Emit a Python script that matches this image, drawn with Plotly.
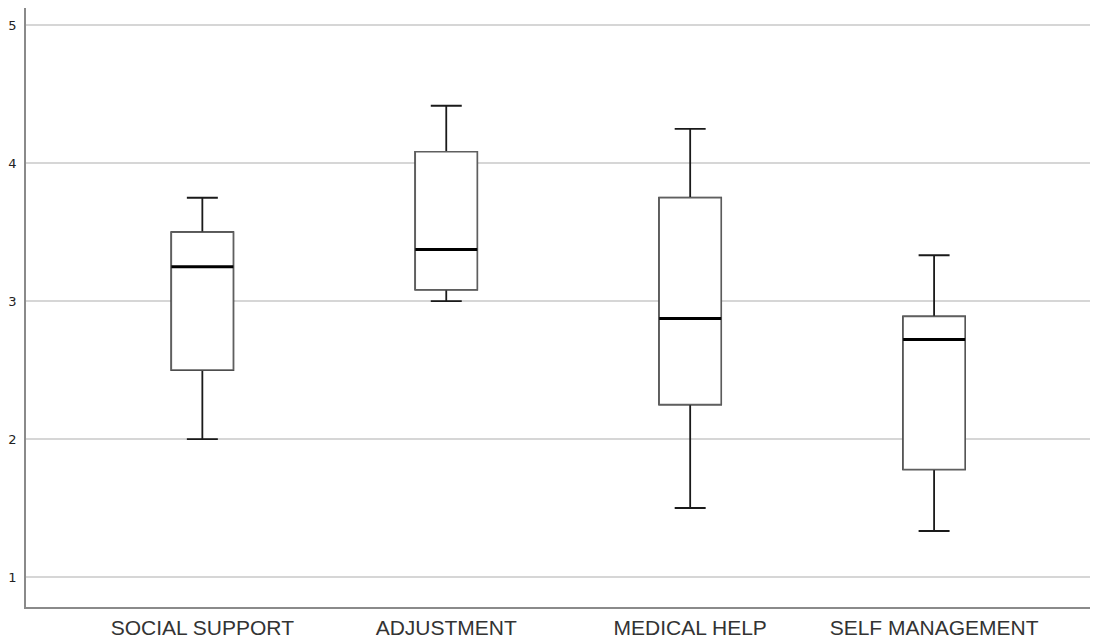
import plotly.graph_objects as go

categories = ["SOCIAL SUPPORT", "ADJUSTMENT", "MEDICAL HELP", "SELF MANAGEMENT"]
lower_whisker = [2.0, 3.0, 1.5, 1.333]
q1 = [2.5, 3.083, 2.25, 1.78]
median = [3.25, 3.375, 2.875, 2.722]
q3 = [3.5, 4.083, 3.75, 2.889]
upper_whisker = [3.75, 4.417, 4.25, 3.333]
y_ticks = [1, 2, 3, 4, 5]

BOX_W = 0.254
fig = go.Figure()

# whiskers (black)
fig.add_trace(go.Box(
    x=categories, q1=q1, median=median, q3=q3,
    lowerfence=lower_whisker, upperfence=upper_whisker,
    width=BOX_W, whiskerwidth=0.5,
    line=dict(color="#1a1a1a", width=1.8), fillcolor="white",
    hoverinfo="skip", showlegend=False,
))
# box body (gray outline)
fig.add_trace(go.Box(
    x=categories, q1=q1, median=median, q3=q3,
    lowerfence=q1, upperfence=q3,
    width=BOX_W, whiskerwidth=0,
    line=dict(color="#5f5f5f", width=1.5), fillcolor="white",
    hoverinfo="skip", showlegend=False,
))
# thick median line
fig.add_trace(go.Box(
    x=categories, q1=median, median=median, q3=median,
    lowerfence=median, upperfence=median,
    width=BOX_W, whiskerwidth=0,
    line=dict(color="black", width=3), fillcolor="rgba(0,0,0,0)",
    hoverinfo="skip", showlegend=False,
))

fig.update_layout(
    width=1090, height=631,
    margin=dict(l=17, r=0, t=0, b=26),
    paper_bgcolor="white", plot_bgcolor="white",
    boxmode="overlay",
    font=dict(family="Liberation Sans, Arial, sans-serif", color="#222"),
)
fig.update_xaxes(
    type="category", range=[-0.723, 3.672],
    showgrid=False, showline=True, linecolor="#8a8a8a", linewidth=1.5,
    ticks="", tickfont=dict(size=21, color="#333"),
    ticklabelstandoff=1, zeroline=False,
)
fig.update_yaxes(
    range=[0.782, 5.126], tickvals=y_ticks,
    showgrid=True, gridcolor="#d6d6d6", gridwidth=1.5,
    showline=True, linecolor="#8a8a8a", linewidth=1.5,
    ticks="", tickfont=dict(size=13, color="#222", family="DejaVu Sans, sans-serif"),
    ticklabelstandoff=5, zeroline=False,
)

fig.write_html("out.html")
